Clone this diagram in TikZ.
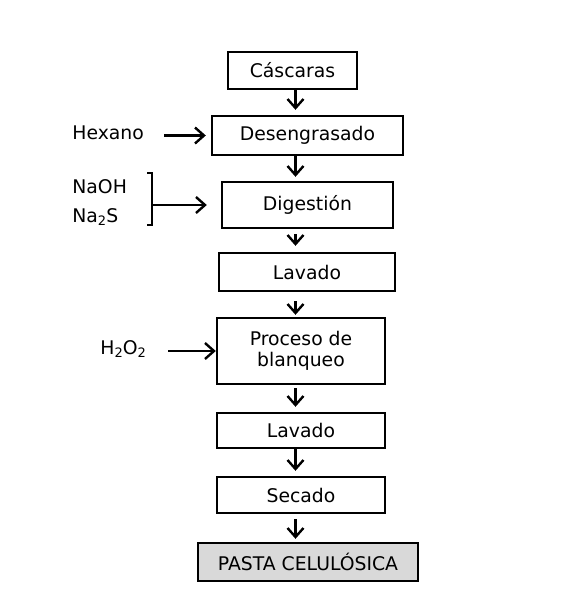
\documentclass[tikz,border=0pt]{standalone}
\usepackage{fontspec}
\setmainfont{DejaVu Sans}
\usepackage{tikz}
\usetikzlibrary{arrows.meta, positioning}
\newcommand{\lowtwo}{\raisebox{-0.35ex}{\fontsize{6.5}{6.5}\selectfont 2}}
\tikzset{
		stage/.style={draw, line width=1.2pt, inner sep=0pt, align=center, font=\fontsize{9.4}{10.5}\selectfont},
		input/.style={inner sep=0pt, anchor=west, font=\fontsize{9.4}{10.5}\selectfont},
		flow/.style={-{Straight Barb[length=4.5pt,width=8pt,line width=1.2pt]}, line width=1.2pt}
	}
\begin{document}
\begin{tikzpicture}[x=0.5pt, y=-0.5pt]
				\useasboundingbox (0,0) rectangle (575,601);
				\node[stage, minimum width=64.5pt, minimum height=18.5pt] (cas)   at (292.5,70.5) {Cáscaras};
				\node[stage, minimum width=95.5pt, minimum height=19.5pt] (des)   at (307.5,135.5) {Desengrasado};
				\node[stage, minimum width=85.5pt, minimum height=23pt]   (dig)   at (307.5,205) {Digestión};
				\node[stage, minimum width=88pt,   minimum height=19pt]   (lav1)  at (307,272) {Lavado};
				\node[stage, minimum width=84pt,   minimum height=33pt]   (blq)   at (301,351) {Proceso de\\blanqueo};
				\node[stage, minimum width=84pt,   minimum height=17.5pt] (lav2)  at (301,430.5) {Lavado};
				\node[stage, minimum width=84pt,   minimum height=18pt]   (sec)   at (301,495) {Secado};
				\node[stage, minimum width=110pt,  minimum height=19pt, fill=black!15] (pasta) at (308,562) {PASTA CELULÓSICA};
				\coordinate (col) at (295.5,0);
				% reactivos
				\node[input] (hex)  at (72,133) {Hexano};
				\node[input] (naoh) at (72,187) {NaOH};
				\node[input] (nas)  at (72,217) {Na\lowtwo S};
				\node[input] (hoh)  at (100,349) {H\lowtwo O\lowtwo};
				\coordinate (brt) at (152,173);
				\coordinate (brb) at (152,225);
				\draw[line width=1.2pt] ([xshift=-2.5pt]brt) -- (brt) -- (brb) -- ([xshift=-2.5pt]brb);
				\draw[flow, shorten >=7pt] (brt |- dig.west) -- (dig.west);
				\draw[flow, shorten >=2.5pt] ([xshift=10pt]hex.east |- des.west) -- (des.west);
				\draw[flow] ([xshift=11pt]hoh.east |- blq.west) -- (blq.west);
				% linea principal
				\draw[flow, shorten >=2.5pt] (cas.south -| col) -- (des.north -| col);
				\draw[flow, shorten >=2pt]   (des.south -| col) -- (dig.north -| col);
				\draw[flow, shorten <=2.5pt, shorten >=3pt] (dig.south -| col) -- (lav1.north -| col);
				\draw[flow, shorten <=4.5pt, shorten >=1pt] (lav1.south -| col) -- (blq.north -| col);
				\draw[flow, shorten <=1.5pt, shorten >=2.5pt] (blq.south -| col) -- (lav2.north -| col);
				\draw[flow, shorten >=2.5pt] (lav2.south -| col) -- (sec.north -| col);
				\draw[flow, shorten <=2.5pt, shorten >=1.5pt] (sec.south -| col) -- (pasta.north -| col);
			\end{tikzpicture}
\end{document}
